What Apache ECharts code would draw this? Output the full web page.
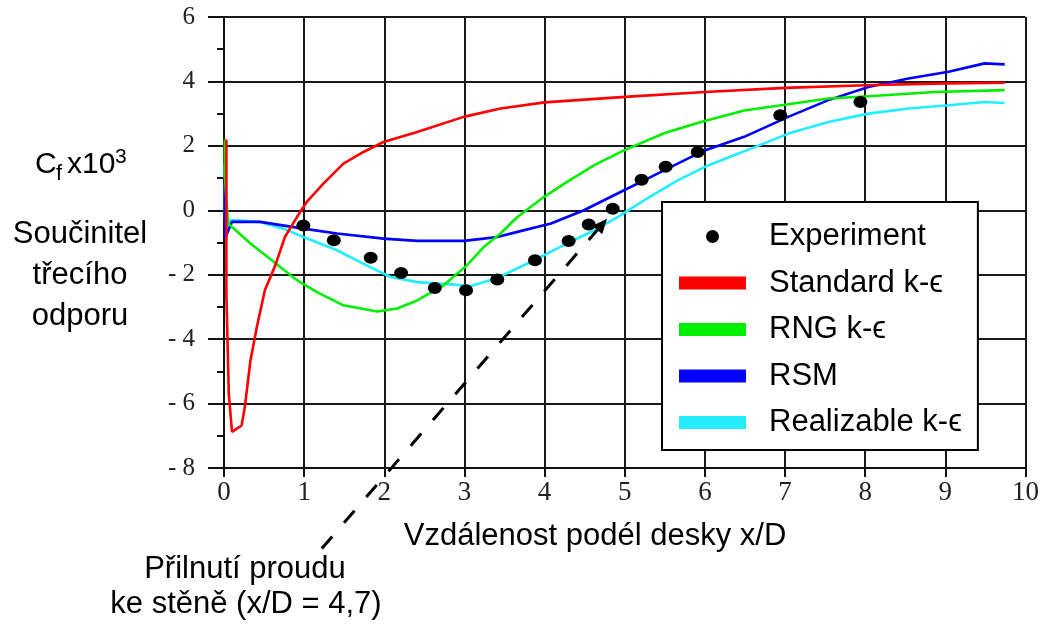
<!DOCTYPE html>
<html><head><meta charset="utf-8">
<script src="https://cdn.jsdelivr.net/npm/echarts@6/dist/echarts.min.js"></script>
<style>html,body{margin:0;padding:0;background:#fff}#c{width:1042px;height:627px}</style>
</head><body><div id="c"></div>
<script>
// ---- data ----
const seriesNames = ['Experiment', 'Standard k-ϵ', 'RNG k-ϵ', 'RSM', 'Realizable k-ϵ'];
const expX = [0.99,1.37,1.83,2.21,2.63,3.02,3.41,3.88,4.30,4.55,4.85,5.21,5.51,5.91,6.94,7.94];
const expY = [-0.47,-0.93,-1.47,-1.95,-2.41,-2.48,-2.15,-1.55,-0.95,-0.44,0.05,0.95,1.35,1.81,2.95,3.36];
const stdX = [0.03,0.03,0.06,0.10,0.22,0.26,0.33,0.41,0.51,0.64,0.76,0.91,1.03,1.24,1.49,1.74,1.99,2.41,2.99,3.45,4.0,5.0,6.0,7.0,8.0,9.0,9.74];
const stdY = [2.2,-2.65,-5.7,-6.88,-6.68,-6.1,-4.66,-3.62,-2.48,-1.71,-0.83,-0.21,0.25,0.83,1.45,1.81,2.12,2.43,2.9,3.16,3.35,3.52,3.67,3.8,3.88,3.94,3.96];
const rngX = [0.01,0.01,0.05,0.10,0.33,0.62,0.91,1.16,1.49,1.91,2.16,2.41,2.74,3.03,3.24,3.45,3.66,3.99,4.28,4.62,4.99,5.5,5.95,6.49,7.04,7.54,8.04,8.87,9.74];
const rngY = [2.2,1.1,-0.4,-0.52,-1.03,-1.6,-2.17,-2.54,-2.95,-3.14,-3.05,-2.8,-2.33,-1.71,-1.14,-0.72,-0.21,0.41,0.88,1.4,1.86,2.4,2.74,3.1,3.29,3.47,3.54,3.67,3.73];
const rsmX = [0.0,0.01,0.01,0.10,0.45,0.99,1.41,1.99,2.41,2.99,3.24,3.41,3.66,4.08,4.49,4.91,5.24,5.66,5.97,6.49,7.04,7.54,8.04,8.54,9.04,9.49,9.74];
const rsmY = [1.0,0.8,-0.88,-0.36,-0.36,-0.57,-0.72,-0.88,-0.95,-0.95,-0.88,-0.83,-0.67,-0.41,0.0,0.52,0.93,1.45,1.83,2.28,2.9,3.42,3.83,4.09,4.3,4.56,4.53];
const relX = [0.01,0.01,0.02,0.075,0.16,0.45,0.74,0.99,1.41,1.78,2.08,2.41,2.83,3.08,3.41,3.87,4.28,4.62,4.91,5.24,5.66,6.0,6.49,7.04,7.54,8.04,8.54,9.04,9.49,9.74];
const relY = [1.45,0.0,-0.72,-0.31,-0.31,-0.36,-0.57,-0.83,-1.24,-1.71,-2.07,-2.23,-2.3,-2.35,-2.1,-1.55,-1.03,-0.62,-0.21,0.31,0.93,1.35,1.83,2.38,2.74,3.0,3.16,3.26,3.36,3.33];
const arrowFrom = [1.22, -10.5];
const arrowTo = [4.78, -0.26];
const xAxisTitle = 'Vzdálenost podél desky x/D';
const yAxisTitleLines = ['Součinitel', 'třecího', 'odporu'];
const noteLines = ['Přilnutí proudu', 'ke stěně (x/D = 4,7)'];

const zip = (xs, ys) => xs.map((x, i) => [x, ys[i]]);
const sans = '"Liberation Sans", Arial, sans-serif';
const serif = '"Liberation Serif", "DejaVu Serif", serif';
const gridCol = '#1a1a1a';

const chart = echarts.init(document.getElementById('c'), null, {renderer: 'canvas'});
const lineSeries = (name, xs, ys, color) => ({
  name, type: 'line', data: zip(xs, ys), showSymbol: false, symbol: 'none',
  lineStyle: {color, width: 2.6}, itemStyle: {color}, animation: false
});

chart.setOption({
  animation: false,
  backgroundColor: '#fff',
  grid: {left: 224, right: 16, top: 17, bottom: 159, containLabel: false},
  xAxis: {
    type: 'value', min: 0, max: 10, interval: 1,
    axisLine: {onZero: false, lineStyle: {color: '#111', width: 2}},
    axisTick: {length: 9, lineStyle: {color: '#111', width: 2}},
    axisLabel: {margin: 11, fontFamily: serif, fontSize: 27, color: '#222'},
    splitLine: {show: true, lineStyle: {color: gridCol, width: 2}}
  },
  yAxis: {
    type: 'value', min: -8, max: 6, interval: 2,
    axisLine: {show: true, lineStyle: {color: '#111', width: 2}},
    axisTick: {show: true, length: 16, lineStyle: {color: '#111', width: 2}},
    minorTick: {show: true, splitNumber: 2, length: 7, lineStyle: {color: '#111', width: 2}},
    axisLabel: {margin: 29, fontFamily: serif, fontSize: 25, color: '#222',
      formatter: v => v < 0 ? '- ' + Math.abs(v) : String(v)},
    splitLine: {show: true, lineStyle: {color: gridCol, width: 2}}
  },
  legend: {
    orient: 'vertical', left: 662, top: 202,
    padding: [19, 16, 12, 17],
    backgroundColor: '#fff', borderColor: '#000', borderWidth: 2,
    itemWidth: 67, itemHeight: 13, itemGap: 15.5, itemTextGap: 5,
    textStyle: {fontFamily: sans, fontSize: 31, color: '#000', lineHeight: 30, padding: [0, 0, 0, 18]},
    data: [
      {name: seriesNames[0], icon: 'circle'},
      {name: seriesNames[1], icon: 'rect'},
      {name: seriesNames[2], icon: 'rect'},
      {name: seriesNames[3], icon: 'rect'},
      {name: seriesNames[4], icon: 'rect'}
    ],
    selectedMode: false
  },
  series: [
    lineSeries(seriesNames[4], relX, relY, '#22eeff'),
    lineSeries(seriesNames[3], rsmX, rsmY, '#0000ff'),
    lineSeries(seriesNames[2], rngX, rngY, '#00ee00'),
    lineSeries(seriesNames[1], stdX, stdY, '#ff0000'),
    {name: seriesNames[0], type: 'scatter', data: zip(expX, expY), symbol: 'circle',
     symbolSize: [14, 12], itemStyle: {color: '#000', opacity: 1}, z: 5}
  ]
});

// annotations
const p0 = chart.convertToPixel({gridIndex: 0}, arrowFrom);
const p1 = chart.convertToPixel({gridIndex: 0}, arrowTo);
const dx = p1[0] - p0[0], dy = p1[1] - p0[1];
const L = Math.hypot(dx, dy), ux = dx / L, uy = dy / L;
const headLen = 15, headHalf = 6.5;
const bx = p1[0] - ux * headLen, by = p1[1] - uy * headLen;

const txt = (x, y, text, size, align) => ({
  type: 'text', x, y, silent: true, z: 100,
  style: {text, fontFamily: sans, fontSize: size, fill: '#000', align: align || 'center', verticalAlign: 'middle'}
});

chart.setOption({
  graphic: [
    {type: 'line', silent: true, z: 50,
     shape: {x1: p0[0], y1: p0[1], x2: bx, y2: by},
     style: {stroke: '#000', lineWidth: 3, lineDash: [16, 18]}},
    {type: 'polygon', silent: true, z: 50,
     shape: {points: [[p1[0], p1[1]], [bx - uy * headHalf, by + ux * headHalf], [bx + uy * headHalf, by - ux * headHalf]]},
     style: {fill: '#000'}},
    txt(35, 165, 'C', 30, 'left'),
    txt(56, 174, 'f', 22, 'left'),
    txt(67, 165, 'x10', 30, 'left'),
    txt(115, 157, '3', 21, 'left'),
    txt(80, 234, yAxisTitleLines[0], 31),
    txt(80, 275, yAxisTitleLines[1], 31),
    txt(80, 316, yAxisTitleLines[2], 31),
    txt(595, 536, xAxisTitle, 31),
    txt(245, 569, noteLines[0], 31),
    txt(246, 604, noteLines[1], 31)
  ]
});
</script></body></html>
